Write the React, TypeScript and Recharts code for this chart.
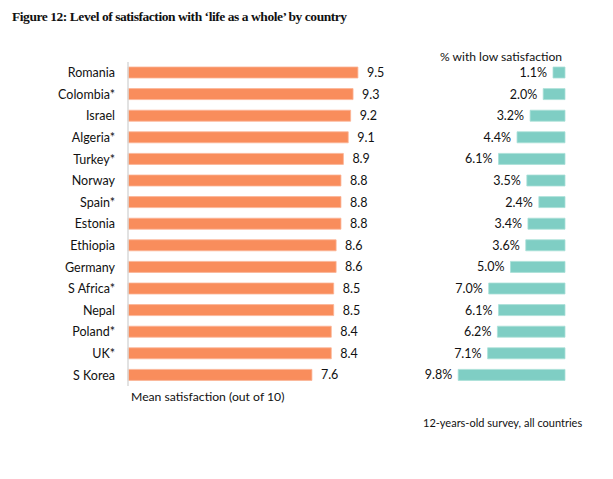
import React from 'react'
import { BarChart, Bar, XAxis, YAxis, LabelList } from 'recharts'

const countries = [
  'Romania', 'Colombia*', 'Israel', 'Algeria*', 'Turkey*', 'Norway', 'Spain*', 'Estonia',
  'Ethiopia', 'Germany', 'S Africa*', 'Nepal', 'Poland*', 'UK*', 'S Korea',
]
const meanSatisfaction = [9.5, 9.3, 9.2, 9.1, 8.9, 8.8, 8.8, 8.8, 8.6, 8.6, 8.5, 8.5, 8.4, 8.4, 7.6]
const lowSatisfaction = [1.1, 2.0, 3.2, 4.4, 6.1, 3.5, 2.4, 3.4, 3.6, 5.0, 7.0, 6.1, 6.2, 7.1, 9.8]

const FONT = 'Lato, "Open Sans", sans-serif'
const ORANGE = '#f98d5c'
const TEAL = '#7fcec4'

const data = countries.map((name, i) => ({
  name,
  mean: meanSatisfaction[i],
  low: lowSatisfaction[i],
}))

const MARGIN_TOP = 62
const MARGIN_BOTTOM = 479 - 386

function LowLabel(props: any) {
  const { x, y, width, height, value } = props
  const left = Math.min(x, x + width)
  return (
    <text
      x={left - 6}
      y={y + height / 2}
      dy="0.36em"
      textAnchor="end"
      fontSize={12.5}
      fontFamily={FONT}
      fill="#111"
    >
      {Number(value).toFixed(1)}%
    </text>
  )
}

export default function App() {
  return (
    <div style={{ position: 'absolute', left: 0, top: 0, width: 613, height: 479, background: '#fff', fontFamily: FONT }}>
      <div
        style={{
          position: 'absolute', left: 12, top: 9, fontFamily: '"Liberation Serif", serif',
          fontWeight: 'bold', fontSize: 13.5, letterSpacing: -0.45, color: '#111', whiteSpace: 'nowrap',
        }}
      >
        Figure 12: Level of satisfaction with ‘life as a whole’ by country
      </div>

      <div style={{ position: 'absolute', left: 0, top: 0 }}>
        <BarChart
          width={400}
          height={479}
          data={data}
          layout="vertical"
          margin={{ top: MARGIN_TOP, right: 30, bottom: MARGIN_BOTTOM, left: 0 }}
          barSize={11}
        >
          <XAxis type="number" domain={[0, 10]} hide />
          <YAxis
            type="category"
            dataKey="name"
            width={128}
            axisLine={{ stroke: '#d9d9d9', strokeWidth: 1.5 }}
            tickLine={false}
            tickMargin={7}
            tick={{ fontSize: 12.5, fill: '#111', fontFamily: FONT }}
          />
          <Bar dataKey="mean" fill={ORANGE} stroke="#fbb496" strokeWidth={0.8} isAnimationActive={false}>
            <LabelList
              dataKey="mean"
              position="right"
              offset={9}
              formatter={(v: any) => Number(v).toFixed(1)}
              style={{ fontSize: 12.5, fill: '#111', fontFamily: FONT }}
            />
          </Bar>
        </BarChart>
      </div>

      <div style={{ position: 'absolute', left: 400, top: 0 }}>
        <BarChart
          width={213}
          height={479}
          data={data}
          layout="vertical"
          margin={{ top: MARGIN_TOP, right: 48, bottom: MARGIN_BOTTOM, left: 56 }}
          barSize={11}
        >
          <XAxis type="number" domain={[0, 10]} reversed hide />
          <YAxis type="category" dataKey="name" hide />
          <Bar dataKey="low" fill={TEAL} stroke="#a9dfd8" strokeWidth={0.8} isAnimationActive={false}>
            <LabelList dataKey="low" content={<LowLabel />} />
          </Bar>
        </BarChart>
      </div>

      <div style={{ position: 'absolute', left: 440, top: 49, fontSize: 12.1, color: '#111', whiteSpace: 'nowrap' }}>
        % with low satisfaction
      </div>
      <div style={{ position: 'absolute', left: 131, top: 389, fontSize: 12.2, color: '#111', whiteSpace: 'nowrap' }}>
        Mean satisfaction (out of 10)
      </div>
      <div style={{ position: 'absolute', left: 423, top: 416, fontSize: 11, color: '#111', whiteSpace: 'nowrap' }}>
        12-years-old survey, all countries
      </div>
    </div>
  )
}
